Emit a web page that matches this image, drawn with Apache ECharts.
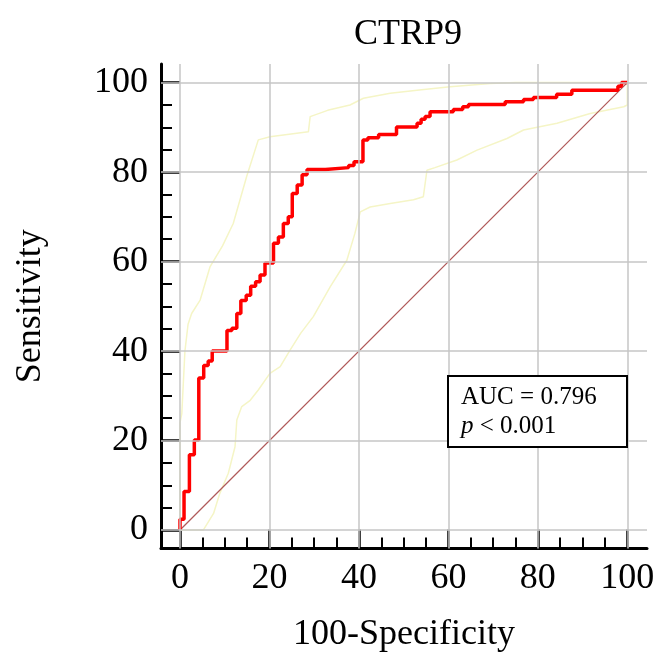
<!DOCTYPE html>
<html>
<head>
<meta charset="utf-8">
<title>CTRP9 ROC</title>
<script src="https://cdn.jsdelivr.net/npm/echarts@6.0.0/dist/echarts.min.js"></script>
<style>
  html, body { margin: 0; padding: 0; background: #fff; }
  #chart { width: 654px; height: 655px; }
</style>
</head>
<body>
<div id="chart"></div>
<script>
// ROC curve, step corners (100-specificity, sensitivity)
const rocX = [0, 0.9, 2.1, 3.2, 4.2, 5.3, 6.3, 7.2, 10.5, 11.6, 12.7, 13.6, 14.8, 15.8, 16.9, 17.9,
  19.0, 20.9, 22.0, 23.1, 24.2, 25.1, 26.2, 27.3, 28.4, 32.5, 37.7, 38.9, 40.9, 42.0, 44.4, 48.4,
  53.0, 53.9, 54.8, 55.9, 61.1, 63.2, 64.5, 72.7, 76.8, 79.0, 84.2, 87.6, 97.9, 98.7, 100];
const rocY = [0, 2.4, 8.6, 16.8, 20.1, 34.0, 36.8, 37.8, 40.0, 44.6, 45.1, 48.4, 51.3, 52.5, 54.5, 55.5,
  57.0, 59.7, 64.1, 65.5, 68.5, 70.0, 75.2, 77.1, 79.4, 80.6, 81.0, 81.5, 82.3, 87.2, 87.7, 88.4,
  90.1, 90.9, 91.8, 92.4, 93.5, 94.0, 94.6, 95.1, 95.7, 96.2, 96.7, 97.4, 98.3, 99.2, 100];

// 95% confidence bounds
const upperX = [0, 0, 0.4, 1.1, 1.8, 2.6, 4.5, 6.7, 9.5, 11.9, 14.9, 17.5, 20.1, 28.7, 29.1, 33.0,
  38.0, 41.0, 47.0, 54.0, 60.4, 69.4, 75.0, 100];
const upperY = [0, 24, 26, 40, 46, 48.4, 51.4, 58.8, 63.5, 68.5, 79.0, 87.2, 87.9, 89.0, 92.4, 93.8,
  95.0, 96.5, 97.6, 98.4, 99.1, 99.8, 100, 100];
const lowerX = [0, 5.2, 7.5, 8.9, 10.8, 12.3, 12.7, 13.8, 15.7, 17.5, 20.1, 22.4, 24.6, 27.0, 29.8,
  33.6, 37.3, 39.1, 40.3, 42.5, 47.0, 52.2, 54.4, 55.2, 57.0, 61.9, 66.4, 73.1, 76.8, 84.3, 91.7, 99.2, 100, 100];
const lowerY = [0, 0, 3.7, 8.2, 12.7, 18.6, 24.6, 27.6, 29.0, 31.3, 35.0, 36.5, 40.2, 44.0, 47.7,
  54.4, 60.3, 66.3, 71.1, 72.2, 73.0, 73.8, 74.5, 80.4, 81.0, 82.7, 84.9, 87.5, 89.4, 90.9, 93.1, 94.6, 95.0, 100];

const refX = [0, 100];
const refY = [0, 100];

const majorTicks = [0, 20, 40, 60, 80, 100];
const minorTicks = [5, 10, 15, 25, 30, 35, 45, 50, 55, 65, 70, 75, 85, 90, 95];

const aucLabel = 'AUC = 0.796';
const pLabel = '< 0.001';

const pairs = (xs, ys) => xs.map((x, i) => [x, ys[i]]);

const serif = 'Liberation Serif';
const chart = echarts.init(document.getElementById('chart'));

function mainAxis(name, gap, margin, min, max) {
  return {
    type: 'value', min: min, max: max,
    name: name, nameLocation: 'middle', nameGap: gap,
    nameTextStyle: { fontFamily: serif, fontSize: 36, color: '#000' },
    axisLine: { show: true, onZero: false, lineStyle: { color: '#000', width: 3 } },
    axisTick: { show: true, inside: true, length: 19, customValues: majorTicks,
      lineStyle: { color: '#000', width: 2.5 } },
    axisLabel: { customValues: majorTicks, margin: margin, fontFamily: serif, fontSize: 36, color: '#000' },
    splitLine: { show: false }
  };
}
function minorAxis(min, max) {
  return {
    type: 'value', min: min, max: max,
    axisLine: { show: false, onZero: false },
    axisTick: { show: true, inside: true, length: 11, customValues: minorTicks,
      lineStyle: { color: '#000', width: 2 } },
    axisLabel: { show: false },
    splitLine: { show: false }
  };
}

const xMin = -4.25, xMax = 104.4, yMin = -4.13, yMax = 104.16;

const option = {
  animation: false,
  backgroundColor: '#fff',
  title: [
    { text: 'CTRP9', left: 349, top: 12,
      textStyle: { fontFamily: serif, fontSize: 36, fontWeight: 'normal', color: '#000' } },
    { text: '{a|' + aucLabel + '}\n{i|p}{a| ' + pLabel + '}', left: 448, top: 374,
      padding: [9, 31, 8, 13], borderColor: '#000', borderWidth: 2, backgroundColor: '#fff',
      textStyle: { fontWeight: 'normal', rich: {
        a: { fontFamily: serif, fontSize: 25, lineHeight: 29, fontWeight: 'normal', color: '#000' },
        i: { fontFamily: serif, fontSize: 25, lineHeight: 29, fontWeight: 'normal', fontStyle: 'italic', color: '#000' }
      } } }
  ],
  grid: { left: 161, right: 7, top: 64, bottom: 106.5, containLabel: false, outerBoundsMode: 'none' },
  xAxis: [mainAxis('100-Specificity', 68, 12, xMin, xMax), Object.assign(minorAxis(xMin, xMax), { position: 'bottom' })],
  yAxis: [mainAxis('Sensitivity', 112, 13, yMin, yMax), Object.assign(minorAxis(yMin, yMax), { position: 'left' })],
  series: [
    {
      // grid lines at major ticks
      type: 'line', data: [[0, 0]], symbol: 'none', lineStyle: { width: 0 }, z: 1, silent: true,
      markLine: {
        silent: true, symbol: 'none', animation: false, label: { show: false },
        lineStyle: { color: '#c6c6c6', width: 1.5, type: 'solid' },
        data: majorTicks.map(v => ({ xAxis: v })).concat(majorTicks.map(v => ({ yAxis: v })))
      }
    },
    { type: 'line', data: pairs(upperX, upperY), showSymbol: false, z: 2,
      lineStyle: { color: '#f5f5c6', width: 1.5 } },
    { type: 'line', data: pairs(lowerX, lowerY), showSymbol: false, z: 2,
      lineStyle: { color: '#f5f5c6', width: 1.5 } },
    { type: 'line', data: pairs(refX, refY), showSymbol: false, z: 3,
      lineStyle: { color: '#b05a5a', width: 1.2 } },
    { type: 'line', data: pairs(rocX, rocY), step: 'start', showSymbol: false, z: 4,
      lineStyle: { color: '#ff0000', width: 3.5 } }
  ]
};

chart.setOption(option);
</script>
</body>
</html>
